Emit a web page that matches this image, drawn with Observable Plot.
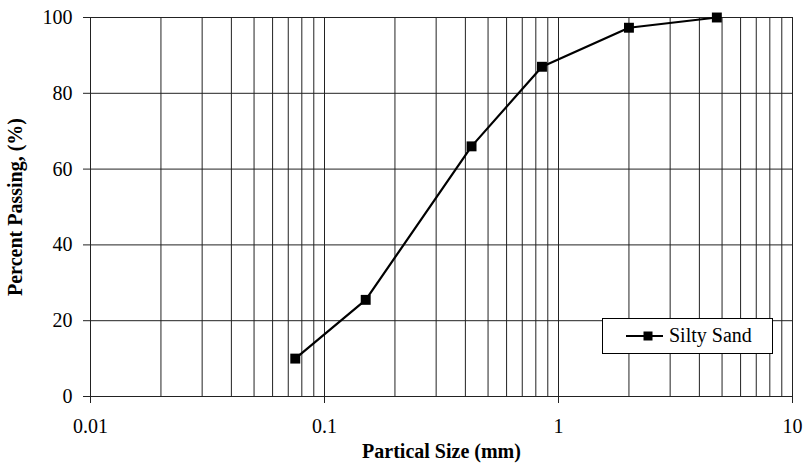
<!DOCTYPE html>
<html>
<head>
<meta charset="utf-8">
<script src="https://cdn.jsdelivr.net/npm/d3@7"></script>
<script src="https://cdn.jsdelivr.net/npm/@observablehq/plot@0.6"></script>
<style>
  html, body { margin: 0; padding: 0; background: #fff; }
  #chart { position: relative; width: 803px; height: 464px; }
  #chart svg, #chart svg text { font-family: "Liberation Serif", "Times New Roman", Times, serif !important; }
</style>
</head>
<body>
<div id="chart"></div>
<script>
const seriesName = "Silty Sand";
const sizesMm = [0.075, 0.15, 0.425, 0.85, 2.0, 4.75];
const percentPassing = [10, 25.5, 66, 87, 97.3, 100];
const xTickValues = [0.01, 0.1, 1, 10];
const xTickLabels = ["0.01", "0.1", "1", "10"];
const yTickValues = [0, 20, 40, 60, 80, 100];
const xTitle = "Partical Size (mm)";
const yTitle = "Percent Passing, (%)";

const data = sizesMm.map((s, i) => ({size: s, pct: percentPassing[i]}));
const minorGrid = [];
for (const d of [0.01, 0.1, 1]) for (let k = 1; k <= 9; k++) minorGrid.push(+(d * k).toPrecision(3));
minorGrid.push(10);

const plot = Plot.plot({
  width: 803,
  height: 464,
  marginLeft: 90,
  marginRight: 11,
  marginTop: 17,
  marginBottom: 68,
  style: {fontSize: "20px", color: "#000", background: "#fff"},
  x: {type: "log", domain: [0.01, 10]},
  y: {domain: [0, 100]},
  marks: [
    Plot.ruleX(minorGrid, {stroke: "#222", strokeWidth: 1}),
    Plot.ruleY(yTickValues, {stroke: "#222", strokeWidth: 1}),
    Plot.axisX({ticks: xTickValues, tickFormat: d => xTickLabels[xTickValues.indexOf(d)], tickSize: 7, tickPadding: 15, label: null, stroke: "#222", fontSize: 20}),
    Plot.axisY({ticks: yTickValues, tickSize: 7, tickPadding: 11, label: null, stroke: "#222", fontSize: 20}),
    Plot.text([xTitle], {frameAnchor: "bottom", lineAnchor: "bottom", dy: 61, fontWeight: "bold", fontSize: 20, text: d => d}),
    Plot.text([yTitle], {frameAnchor: "left", dx: -75, rotate: -90, textAnchor: "middle", fontWeight: "bold", fontSize: 20, text: d => d}),
    Plot.line(data, {x: "size", y: "pct", stroke: "#000", strokeWidth: 2.2}),
    Plot.dot(data, {x: "size", y: "pct", symbol: "square", r: 5.6, fill: "#000", stroke: null})
  ]
});
document.getElementById("chart").appendChild(plot);

// Legend box inside the plot area (lower right)
const svg = d3.select(plot);
const lg = svg.append("g").attr("text-anchor", "start");
lg.append("rect").attr("x", 602.5).attr("y", 318.5).attr("width", 170).attr("height", 35)
  .attr("fill", "#fff").attr("stroke", "#000").attr("stroke-width", 1);
lg.append("line").attr("x1", 626).attr("x2", 663).attr("y1", 336).attr("y2", 336)
  .attr("stroke", "#000").attr("stroke-width", 2.2);
lg.append("rect").attr("x", 643.5).attr("y", 331.5).attr("width", 9).attr("height", 9).attr("fill", "#000");
lg.append("text").attr("x", 669).attr("y", 342).attr("font-size", 20)
  .attr("font-family", "Liberation Serif, serif").attr("fill", "#000").text(seriesName);
</script>
</body>
</html>
